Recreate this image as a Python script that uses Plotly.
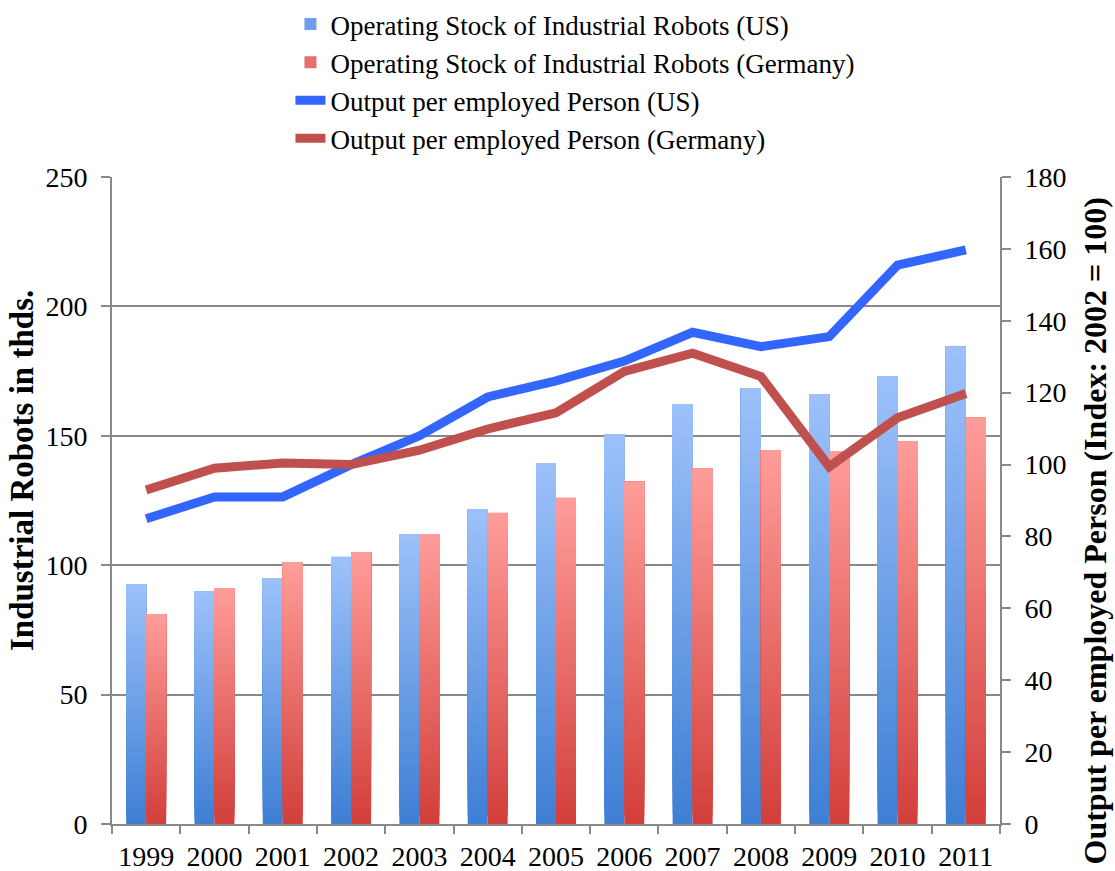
import plotly.graph_objects as go

years = ["1999", "2000", "2001", "2002", "2003", "2004", "2005",
         "2006", "2007", "2008", "2009", "2010", "2011"]
robots_us = [92.6, 89.8, 94.9, 103.2, 112.0, 121.7, 139.5,
             150.5, 162.2, 168.4, 166.0, 173.0, 184.4]
robots_de = [81.0, 91.1, 101.1, 105.1, 112.0, 120.2, 126.0,
             132.2, 137.3, 144.4, 144.0, 148.0, 157.0]
output_us = [84.9, 91.0, 91.0, 100.0, 108.0, 118.8, 123.3,
             128.8, 136.8, 132.8, 135.6, 155.5, 159.7]
output_de = [92.9, 99.0, 100.4, 100.0, 104.0, 109.9, 114.4,
             125.9, 131.0, 124.5, 99.4, 113.0, 119.8]

FONT = "Liberation Serif"
N_SEG = 40  # vertical slices used to shade each bar light-to-dark


def mix(c_top, c_bot, t):
    """Blend two RGB tuples; t=0 gives the top colour, t=1 the bottom one."""
    r, g, b = (round(a + (bb - a) * t) for a, bb in zip(c_top, c_bot))
    return f"rgb({r},{g},{b})"


US_TOP, US_BOT = (157, 194, 250), (62, 126, 212)
DE_TOP, DE_BOT = (255, 157, 154), (210, 62, 58)

fig = go.Figure()


def add_shaded_bars(values, name, group, top, bot, legend_color, rank):
    # each slice runs from its own base up to the bar top; the next slice is
    # painted over it, so only a band of each colour stays visible (no seams)
    for k in range(N_SEG):
        t = 1 - (k + 0.5) / N_SEG  # k=0 is the bottom slice
        fig.add_trace(go.Bar(
            x=years,
            y=[v * (N_SEG - k) / N_SEG for v in values],
            base=[v * k / N_SEG for v in values],
            offsetgroup=group,
            marker=dict(color=mix(top, bot, t), line=dict(width=0)),
            name=name,
            legendgroup=group,
            showlegend=False,
            hoverinfo="skip",
        ))
    # legend entry for the shaded series
    fig.add_trace(go.Bar(
        x=[None], y=[None], name=name, legendgroup=group, legendrank=rank,
        marker=dict(color=legend_color, line=dict(width=0)),
    ))


add_shaded_bars(robots_us, "Operating Stock of Industrial Robots (US)", "us",
                US_TOP, US_BOT, "rgb(110,160,232)", 1)
add_shaded_bars(robots_de, "Operating Stock of Industrial Robots (Germany)", "de",
                DE_TOP, DE_BOT, "rgb(232,110,107)", 2)

fig.add_trace(go.Scatter(
    x=years, y=output_us, yaxis="y2", mode="lines",
    name="Output per employed Person (US)", legendrank=3,
    line=dict(color="#3366FF", width=9),
))
fig.add_trace(go.Scatter(
    x=years, y=output_de, yaxis="y2", mode="lines",
    name="Output per employed Person (Germany)", legendrank=4,
    line=dict(color="#C0504D", width=9),
))

fig.update_layout(
    width=1115, height=871,
    margin=dict(l=112, r=115, t=177, b=47, autoexpand=False),
    paper_bgcolor="white", plot_bgcolor="white",
    font=dict(family=FONT, size=27, color="black"),
    barmode="group", bargap=0.415, bargroupgap=0,
    showlegend=True,
    legend=dict(
        orientation="v", x=0.2605, xanchor="left", xref="container",
        y=1.002, yanchor="top", yref="container",
        font=dict(family=FONT, size=27),
        tracegroupgap=0, bgcolor="rgba(0,0,0,0)",
    ),
    xaxis=dict(
        type="category", showgrid=False,
        showline=True, linecolor="#888888", linewidth=2,
        ticks="outside", tickson="boundaries", ticklen=8,
        tickcolor="#888888", tickwidth=2,
        tickfont=dict(family=FONT, size=28), ticklabelstandoff=6,
    ),
    yaxis=dict(
        range=[0, 250], dtick=50, tick0=0,
        showgrid=True, gridcolor="#888888", gridwidth=1.5,
        showline=True, linecolor="#888888", linewidth=2,
        ticks="outside", ticklen=9, tickcolor="#888888", tickwidth=2,
        tickfont=dict(family=FONT, size=28), ticklabelstandoff=8,
        zeroline=False,
    ),
    yaxis2=dict(
        overlaying="y", side="right",
        range=[0, 180], dtick=20, tick0=0,
        showgrid=False,
        showline=True, linecolor="#888888", linewidth=2,
        ticks="outside", ticklen=9, tickcolor="#888888", tickwidth=2,
        tickfont=dict(family=FONT, size=28), ticklabelstandoff=8,
        zeroline=False,
    ),
    annotations=[
        dict(text="<b>Industrial Robots in thds.</b>",
             xref="paper", yref="paper", x=-0.1014, y=0.547,
             xanchor="center", yanchor="middle", textangle=-90,
             showarrow=False,
             font=dict(family=FONT, size=33, color="black")),
        dict(text="<b>Output per employed Person (Index: 2002 = 100)</b>",
             xref="paper", yref="paper", x=1.1065, y=0.453,
             xanchor="center", yanchor="middle", textangle=-90,
             showarrow=False,
             font=dict(family=FONT, size=32, color="black")),
    ],
)

fig.write_html("out.html")
